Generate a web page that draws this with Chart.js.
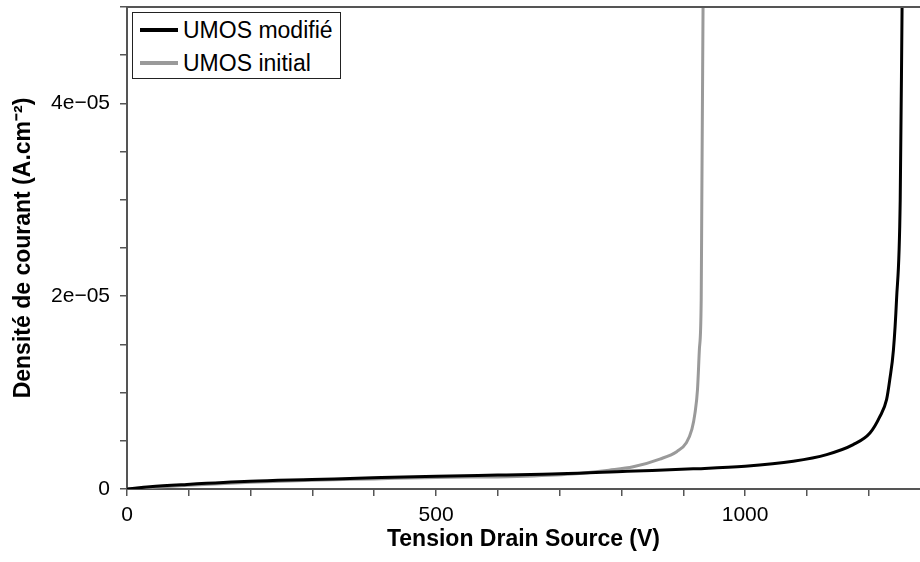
<!DOCTYPE html>
<html>
<head>
<meta charset="utf-8">
<script src="https://cdn.jsdelivr.net/npm/chart.js@4/dist/chart.umd.min.js"></script>
<style>
  html, body { margin: 0; padding: 0; background: #fff; }
  #wrap { position: relative; width: 920px; height: 562px; }
  #legend {
    position: absolute; left: 132px; top: 12px; width: 207px; height: 65px;
    border: 1px solid #222; background: #fff;
    font-family: "Liberation Sans", Arial, sans-serif; font-size: 23px; color: #000;
  }
  .legend-item { position: absolute; left: 0; height: 26px; display: flex; align-items: center; white-space: nowrap; }
  .legend-line { width: 38px; height: 4px; margin-left: 7px; margin-right: 5px; }
</style>
</head>
<body>
<div id="wrap">
  <canvas id="ivChart" width="920" height="562"></canvas>
  <div id="legend"></div>
</div>
<script>
  // UMOS modifié (black)
  const voltsModifie = [0, 37, 97, 199, 299, 398, 501, 600, 700, 809, 916, 1000, 1078, 1132, 1175, 1202, 1218, 1229, 1234, 1240, 1245, 1251, 1254];
  const densModifie = [0, 0.23e-6, 0.47e-6, 0.8e-6, 0.98e-6, 1.16e-6, 1.33e-6, 1.45e-6, 1.57e-6, 1.84e-6, 2.09e-6, 2.36e-6, 2.88e-6, 3.57e-6, 4.6e-6, 5.8e-6, 7.5e-6, 9.3e-6, 11.3e-6, 14.4e-6, 19.6e-6, 30e-6, 50e-6];

  // UMOS initial (gray)
  const voltsInitial = [0, 100, 200, 300, 400, 500, 631, 720, 780, 819, 862, 890, 905, 914, 919, 923, 926, 929, 930, 932];
  const densInitial = [0, 0.4e-6, 0.7e-6, 0.9e-6, 1.05e-6, 1.2e-6, 1.3e-6, 1.55e-6, 1.95e-6, 2.3e-6, 3.1e-6, 3.9e-6, 4.8e-6, 6.2e-6, 7.9e-6, 10.3e-6, 14.4e-6, 19.6e-6, 30e-6, 50e-6];

  const seriesLabels = ['UMOS modifié', 'UMOS initial'];
  const seriesColors = ['#000000', '#9a9a9a'];
  const xLabelTicks = [0, 500, 1000];
  const yLabelTicks = [0, 2e-5, 4e-5];

  const toPoints = (xs, ys) => xs.map((x, i) => ({ x: x, y: ys[i] }));
  const font = 'Liberation Sans, Arial, sans-serif';
  const axisColor = '#555';

  // top frame line
  const topFrame = {
    id: 'topFrame',
    afterDraw(chart) {
      const { ctx, chartArea } = chart;
      ctx.save();
      ctx.strokeStyle = axisColor;
      ctx.lineWidth = 2;
      ctx.beginPath();
      ctx.moveTo(chartArea.left, chartArea.top);
      ctx.lineTo(chartArea.right, chartArea.top);
      ctx.stroke();
      ctx.restore();
    }
  };

  const ctx = document.getElementById('ivChart').getContext('2d');
  const ivChart = new Chart(ctx, {
    type: 'line',
    data: {
      datasets: [
        {
          label: seriesLabels[1],
          data: toPoints(voltsInitial, densInitial),
          borderColor: seriesColors[1],
          borderWidth: 3,
          pointRadius: 0,
          cubicInterpolationMode: 'monotone',
          order: 2
        },
        {
          label: seriesLabels[0],
          data: toPoints(voltsModifie, densModifie),
          borderColor: seriesColors[0],
          borderWidth: 3,
          pointRadius: 0,
          cubicInterpolationMode: 'monotone',
          order: 1
        }
      ]
    },
    options: {
      responsive: false,
      animation: false,
      layout: { padding: { top: 7, right: 0, left: 0, bottom: 0 } },
      plugins: {
        legend: { display: false },
        tooltip: { enabled: false }
      },
      scales: {
        x: {
          type: 'linear',
          min: 0,
          max: 1283,
          afterFit: s => { s.height = 73; s.paddingLeft = 0; s.paddingRight = 0; },
          border: { display: true, color: axisColor, width: 2 },
          grid: { drawOnChartArea: false, drawTicks: true, tickLength: 7, color: axisColor, lineWidth: 1.5 },
          ticks: {
            stepSize: 100,
            includeBounds: false,
            autoSkip: false,
            maxRotation: 0,
            padding: 7,
            color: '#000',
            font: { family: font, size: 21 },
            callback: v => xLabelTicks.includes(v) ? String(v) : ''
          },
          title: {
            display: true,
            text: 'Tension Drain Source (V)',
            color: '#000',
            font: { family: font, size: 23, weight: 'bold' },
            padding: { top: 0, bottom: 9 }
          }
        },
        y: {
          min: 0,
          max: 5e-5,
          afterFit: s => { s.width = 127; s.paddingTop = 0; s.paddingBottom = 0; },
          border: { display: true, color: axisColor, width: 2 },
          grid: { drawOnChartArea: false, drawTicks: true, tickLength: 7, color: axisColor, lineWidth: 1.5 },
          ticks: {
            stepSize: 5e-6,
            autoSkip: false,
            padding: 10,
            color: '#000',
            font: { family: font, size: 21 },
            callback: v => {
              const hit = yLabelTicks.find(t => Math.abs(t - v) < 1e-9);
              if (hit === undefined) return '';
              return hit === 0 ? '0' : Math.round(hit * 1e5) + 'e\u221205';
            }
          },
          title: {
            display: true,
            text: 'Densité de courant (A.cm\u207B\u00B2)',
            color: '#000',
            font: { family: font, size: 23, weight: 'bold' },
            padding: { top: 10, bottom: 0 }
          }
        }
      }
    },
    plugins: [topFrame]
  });

  // Legend box
  const legendContainer = document.getElementById('legend');
  seriesLabels.forEach((label, i) => {
    const item = document.createElement('div');
    item.className = 'legend-item';
    item.style.top = (4 + i * 33) + 'px';
    item.innerHTML = `<div class="legend-line" style="background: ${seriesColors[i]}"></div><span>${label}</span>`;
    legendContainer.appendChild(item);
  });
</script>
</body>
</html>
